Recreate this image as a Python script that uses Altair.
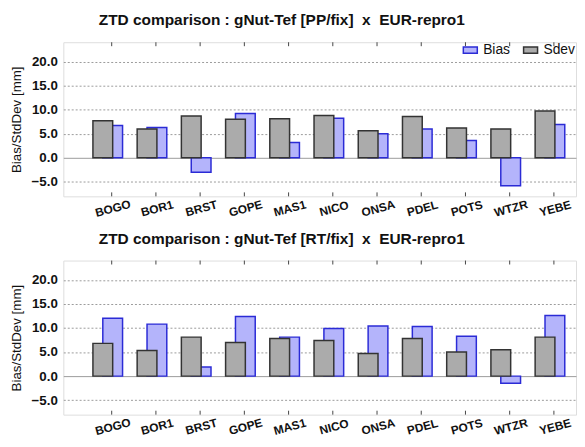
import altair as alt
import pandas as pd

stations = ["BOGO", "BOR1", "BRST", "GOPE", "MAS1", "NICO", "ONSA", "PDEL", "POTS", "WTZR", "YEBE"]
pp_bias = [6.7, 6.3, -3.0, 9.2, 3.2, 8.2, 5.0, 6.0, 3.6, -5.8, 6.9]
pp_sdev = [7.7, 6.0, 8.7, 8.0, 8.1, 8.8, 5.6, 8.6, 6.2, 6.0, 9.7]
rt_bias = [12.0, 10.8, 1.9, 12.4, 8.1, 9.9, 10.4, 10.3, 8.3, -1.5, 12.6]
rt_sdev = [6.8, 5.3, 8.1, 7.0, 7.8, 7.4, 4.7, 7.8, 5.0, 5.5, 8.1]
series = ["Bias", "Sdev"]
y_ticks = [-5, 0, 5, 10, 15, 20]
titles = [
    "ZTD comparison : gNut-Tef [PP/fix] \u00a0x \u00a0EUR-repro1",
    "ZTD comparison : gNut-Tef [RT/fix] \u00a0x \u00a0EUR-repro1",
]

FONT = "Liberation Sans"
W, H = 519, 156

xscale = alt.Scale(domain=stations, paddingInner=0, paddingOuter=0.297, align=1)
yscale = alt.Scale(domain=[-8, 24], nice=False, zero=False)
fill_scale = alt.Scale(domain=series, range=["#b4b4fb", "#ababab"])
stroke_scale = alt.Scale(domain=series, range=["#2b2bd6", "#333333"])


def panel(title, bias, sdev):
    df = pd.DataFrame({
        "station": stations * 2,
        "series": ["Bias"] * len(stations) + ["Sdev"] * len(stations),
        "value": bias + sdev,
    })
    ticks_df = pd.DataFrame({"station": stations})
    base = alt.Chart(df)
    legend = alt.Legend(
        title=None, orient="none", legendX=404, legendY=0, direction="horizontal",
        labelFontSize=14, labelFont=FONT, labelColor="#111",
        symbolType="M-1,-0.45H1V0.45H-1Z", symbolSize=200, symbolStrokeWidth=1.5,
        labelOffset=5, columnPadding=9, padding=0,
    )
    enc = dict(
        x=alt.X("station:N", scale=xscale, sort=stations,
                axis=alt.Axis(title=None, labelAngle=-15, labelAlign="center",
                              labelBaseline="top", labelFontWeight="bold",
                              labelFontSize=12, labelFont=FONT, labelColor="#111",
                              ticks=False, domain=False, grid=False, labelPadding=7)),
        y=alt.Y("value:Q", scale=yscale,
                axis=alt.Axis(title="Bias/StdDev [mm]", values=y_ticks, format=".1f",
                              titleFontSize=13.5, titleFontWeight="normal", titleFont=FONT,
                              titleColor="#111", titlePadding=8,
                              labelFontWeight="bold", labelFontSize=13.5, labelFont=FONT,
                              labelColor="#111", labelPadding=6,
                              ticks=False, domain=False, grid=True, gridColor="#9a9a9a",
                              gridDash={"condition": {"test": "datum.value === 0", "value": []},
                                        "value": [2, 2]})),
        fill=alt.Fill("series:N", scale=fill_scale, legend=legend),
        stroke=alt.Stroke("series:N", scale=stroke_scale, legend=legend),
    )
    bias_bars = base.transform_filter("datum.series === 'Bias'").mark_bar(
        width=20, xOffset=1, strokeWidth=1.5).encode(**enc)
    sdev_bars = base.transform_filter("datum.series === 'Sdev'").mark_bar(
        width=20, xOffset=-9, strokeWidth=1.5).encode(**enc)
    top_ticks = alt.Chart(ticks_df).mark_rule(color="#444").encode(
        x=alt.X("station:N", scale=xscale, sort=stations),
        y=alt.value(0), y2=alt.value(4))
    bot_ticks = alt.Chart(ticks_df).mark_rule(color="#444").encode(
        x=alt.X("station:N", scale=xscale, sort=stations),
        y=alt.value(H - 4), y2=alt.value(H))
    return alt.layer(bias_bars, sdev_bars, top_ticks, bot_ticks).properties(
        width=W, height=H,
        title=alt.TitleParams(title, fontSize=15.6, fontWeight="bold", font=FONT,
                              color="#111", anchor="middle", frame="bounds",
                              dx=-11, offset=13),
    )


chart = alt.vconcat(
    panel(titles[0], pp_bias, pp_sdev),
    panel(titles[1], rt_bias, rt_sdev),
    spacing=12,
).properties(
    padding={"left": 0, "top": 2, "right": 0, "bottom": 0},
).configure_view(stroke="#444", strokeWidth=1).configure(font=FONT)

chart.save("out.html", embed_options={"renderer": "svg", "actions": False})
